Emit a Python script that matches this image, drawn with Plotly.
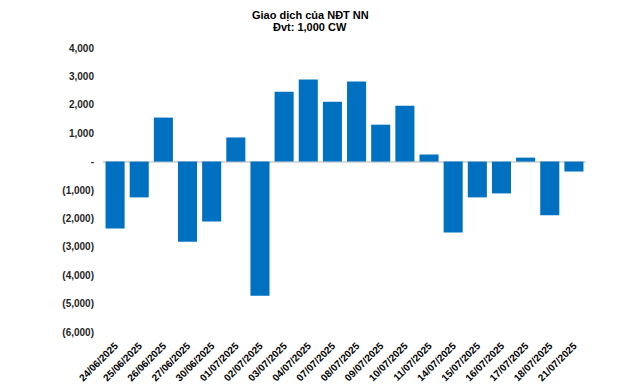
import plotly.graph_objects as go

dates = ["24/06/2025", "25/06/2025", "26/06/2025", "27/06/2025", "30/06/2025",
         "01/07/2025", "02/07/2025", "03/07/2025", "04/07/2025", "07/07/2025",
         "08/07/2025", "09/07/2025", "10/07/2025", "11/07/2025", "14/07/2025",
         "15/07/2025", "16/07/2025", "17/07/2025", "18/07/2025", "21/07/2025"]
values = [-2360, -1260, 1550, -2820, -2110,
          850, -4720, 2460, 2890, 2110,
          2820, 1300, 1970, 250, -2500,
          -1260, -1120, 140, -1890, -350]
tick_vals = [4000, 3000, 2000, 1000, 0, -1000, -2000, -3000, -4000, -5000, -6000]
tick_text = ["4,000", "3,000", "2,000", "1,000", "-", "(1,000)", "(2,000)",
             "(3,000)", "(4,000)", "(5,000)", "(6,000)"]
title_lines = ["Giao dịch của NĐT NN", "Đvt: 1,000 CW"]

font_family = "Liberation Sans, Arial, sans-serif"

# page body has a default 8px margin, so the figure is drawn at (8, 8)
L, T, R, B = 95, 40, 62, 63
plot_w = 640 - L - R
plot_h = 387 - T - B


def title_ann(text, top_px):
    return dict(text="<b>%s</b>" % text, xref="paper", yref="paper",
                x=(302 - L) / plot_w, y=(T + plot_h - top_px) / plot_h,
                showarrow=False, xanchor="center", yanchor="top",
                height=12, valign="middle", borderpad=0,
                font=dict(family=font_family, size=11, color="#000000"))


fig = go.Figure(go.Bar(x=dates, y=values, marker_color="#0070C0",
                       marker_line_width=0))

fig.update_layout(
    width=640, height=387,
    margin=dict(l=L, r=R, t=T, b=B),
    paper_bgcolor="white", plot_bgcolor="white",
    bargap=0.21,
    showlegend=False,
    font=dict(family=font_family),
    annotations=[title_ann(title_lines[0], 0), title_ann(title_lines[1], 12)],
)
fig.update_xaxes(
    type="category", tickangle=-45, showgrid=False, showline=False,
    ticks="", automargin=False, ticklabelstandoff=5,
    tickfont=dict(family=font_family, size=10, color="#000000", weight="bold"),
)
fig.update_yaxes(
    range=[-6000, 4000], tickvals=tick_vals, ticktext=tick_text,
    showgrid=False, zeroline=True, zerolinecolor="#D9D9D9", zerolinewidth=2,
    showline=False, ticks="", ticklabelstandoff=8, automargin=False,
    tickfont=dict(family=font_family, size=10, color="#262626", weight="bold"),
)

fig.write_html("out.html")
